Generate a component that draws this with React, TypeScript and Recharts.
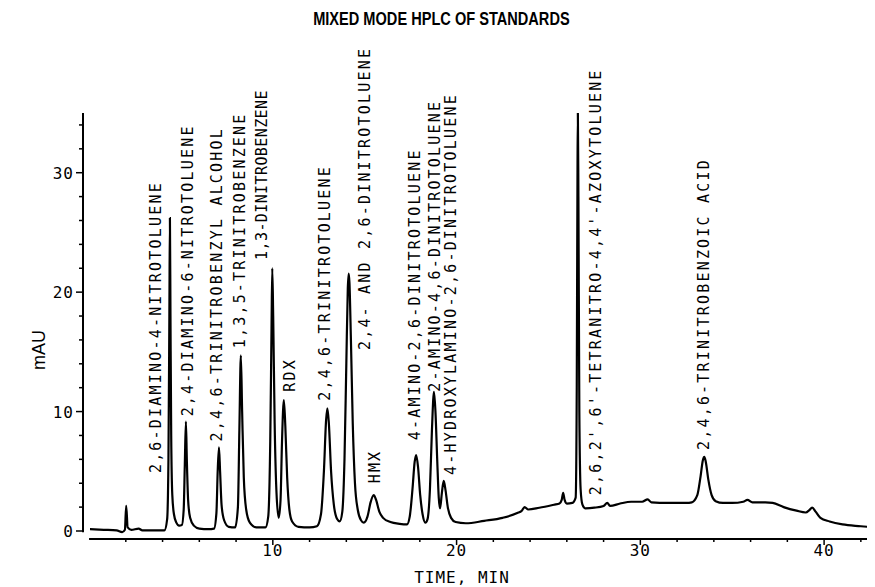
import React from 'react';
import { LineChart, Line, XAxis, YAxis, ReferenceDot, ReferenceLine } from 'recharts';

// Chromatogram trace: retention time (min) and absorbance (mAU)
const traceTime = [
  0.05, 0.8, 1.5, 1.8, 1.95, 2.02, 2.1, 2.3, 2.7, 2.9, 3.5, 4.1,
  4.25, 4.32, 4.37, 4.4, 4.43, 4.47, 4.53, 4.62, 4.75, 4.9,
  5.05, 5.15, 5.21, 5.27, 5.32, 5.39, 5.5, 5.7, 6.0, 6.5,
  6.8, 6.93, 7.0, 7.07, 7.13, 7.21, 7.35, 7.6,
  7.95, 8.1, 8.18, 8.26, 8.33, 8.42, 8.55, 8.75, 9.1,
  9.6, 9.75, 9.86, 9.93, 9.97, 10.02, 10.1, 10.2, 10.32,
  10.42, 10.5, 10.6, 10.68, 10.78, 10.9, 11.05, 11.4, 12.0,
  12.4, 12.62, 12.78, 12.9, 12.97, 13.05, 13.17, 13.32, 13.5, 13.64,
  13.78, 13.9, 14.0, 14.08, 14.13, 14.17, 14.25, 14.35, 14.47, 14.62, 14.8, 14.95,
  15.15, 15.32, 15.49, 15.62, 15.8, 16.0, 16.4, 16.9, 17.3,
  17.45, 17.6, 17.72, 17.8, 17.9, 18.02, 18.15, 18.3,
  18.42, 18.55, 18.66, 18.77, 18.85, 18.95, 19.03, 19.1,
  19.2, 19.3, 19.4, 19.52, 19.7, 19.95, 20.5,
  21.5, 22.5, 23.3, 23.55, 23.7, 23.9, 24.5, 25.3,
  25.6, 25.72, 25.8, 25.88, 26.0, 26.3,
  26.48, 26.54, 26.58, 26.6, 26.63, 26.68, 26.75, 26.85, 27.0,
  27.5, 28.0, 28.2, 28.35, 28.9, 29.5, 30.1, 30.4, 30.6, 31.5, 32.5,
  32.8, 33.1, 33.28, 33.4, 33.48, 33.56, 33.7, 33.88, 34.1, 34.5,
  35.0, 35.6, 35.83, 36.1, 36.8, 37.2, 37.8, 38.5, 39.0,
  39.2, 39.35, 39.55, 39.8, 40.3, 41.0, 42.0, 42.75,
];
const traceMAU = [
  0.15, 0.1, 0.05, -0.1, 0.1, 2.1, 0.3, 0.1, 0.2, 0.05, 0.05, 0.05,
  1.0, 6, 18, 26.2, 18, 8, 3, 1.4, 0.7, 0.45,
  0.5, 1.8, 5.5, 9.15, 6.0, 2.6, 1.1, 0.45, 0.2, 0.15,
  0.2, 1.5, 5.0, 7.0, 5.0, 2.2, 0.9, 0.35,
  0.3, 2.0, 8.5, 14.7, 10, 4.5, 1.8, 0.7, 0.3,
  0.3, 1.2, 7.5, 17, 22.0, 18, 9, 3.2, 1.1,
  2.6, 7.5, 10.96, 8.8, 4.5, 1.8, 0.8, 0.35, 0.3,
  0.4, 1.4, 5, 9.3, 10.27, 9.0, 5.0, 2.2, 1.0, 0.8,
  1.6, 6, 14, 20.3, 21.56, 20.8, 16, 9, 4, 1.8, 0.9, 0.7,
  1.2, 2.4, 3.0, 2.6, 1.6, 1.1, 0.75, 0.6, 0.55,
  1.2, 3.5, 5.8, 6.36, 5.4, 3.0, 1.4, 0.7,
  1.0, 3.5, 8.5, 11.66, 10, 5.8, 2.8, 1.9,
  3.2, 4.2, 3.4, 2.0, 1.1, 0.75, 0.65,
  0.85, 1.1, 1.5, 1.7, 2.0, 1.8, 1.95, 2.2,
  2.3, 2.6, 3.2, 2.6, 2.3, 2.35,
  2.8, 12, 30, 35, 28, 10, 3.5, 2.2, 1.9,
  1.95, 2.1, 2.35, 2.1, 2.3, 2.45, 2.45, 2.65, 2.4, 2.35, 2.35,
  2.4, 3.0, 4.6, 5.9, 6.2, 5.8, 4.3, 3.0, 2.5, 2.35,
  2.35, 2.45, 2.6, 2.4, 2.4, 2.35, 2.0, 1.7, 1.55,
  1.75, 1.95, 1.6, 1.1, 0.8, 0.55, 0.4, 0.3,
];

// Peak annotations
const peakNames = [
  '2,6-DIAMINO-4-NITROTOLUENE',
  '2,4-DIAMINO-6-NITROTOLUENE',
  '2,4,6-TRINITROBENZYL ALCOHOL',
  '1,3,5-TRINITROBENZENE',
  '1,3-DINITROBENZENE',
  'RDX',
  '2,4,6-TRINITROTOLUENE',
  '2,4- AND 2,6-DINITROTOLUENE',
  'HMX',
  '4-AMINO-2,6-DINITROTOLUENE',
  '2-AMINO-4,6-DINITROTOLUENE',
  '4-HYDROXYLAMINO-2,6-DINITROTOLUENE',
  "2,6,2',6'-TETRANITRO-4,4'-AZOXYTOLUENE",
  '2,4,6-TRINITROBENZOIC ACID',
];
// label anchor: time (min) of the label column, and mAU where the text starts
const labelTime = [3.64, 5.4, 6.94, 8.21, 9.39, 10.92, 12.83, 15.0, 15.54, 17.72, 18.8, 19.71, 27.59, 33.48];
const labelBase = [4.85, 9.6, 7.5, 15.3, 22.7, 11.66, 10.9, 15.15, 3.99, 7.6, 11.66, 4.69, 3.0, 6.78];

const xTicks = [2, 4, 6, 8, 10, 12, 14, 16, 18, 20, 22, 24, 26, 28, 30, 32, 34, 36, 38, 40, 42];
const xMajor = [10, 20, 30, 40];
const yTicks = [0, 2, 4, 6, 8, 10, 12, 14, 16, 18, 20, 22, 24, 26, 28, 30, 32, 34];
const yMajor = [0, 10, 20, 30];

const X_MIN = -0.33;
const X_MAX = 42.77;
const Y_MIN = -0.67;
const Y_MAX = 35;

// label drawn with tighter character pitch in the original plot
const labelSpacing: Record<string, number> = { '1,3-DINITROBENZENE': 0.4 };

const data = traceTime.map((t, i) => ({ t, v: traceMAU[i] }));

const MONO = '"DejaVu Sans Mono", monospace';

const XTick = (props: any) => {
  const { x, y, payload } = props;
  const major = xMajor.includes(payload.value);
  return (
    <g>
      <line x1={x} x2={x} y1={y} y2={y + (major ? 6 : 3)} stroke="#000" strokeWidth={1.5} />
      {major && (
        <text x={x} y={y + 17} textAnchor="middle" fontFamily={MONO} fontSize={16} letterSpacing={1} fill="#000">
          {payload.value}
        </text>
      )}
    </g>
  );
};

const YTick = (props: any) => {
  const { x, y, payload } = props;
  const major = yMajor.includes(payload.value);
  return (
    <g>
      <line x1={x - (major ? 7 : 4)} x2={x} y1={y} y2={y} stroke="#000" strokeWidth={1.5} />
      {major && (
        <text x={x - 9} y={y + 6} textAnchor="end" fontFamily={MONO} fontSize={16} letterSpacing={1} fill="#000">
          {payload.value}
        </text>
      )}
    </g>
  );
};

const PeakLabel = ({ cx, cy, text }: { cx: number; cy: number; text: string }) => (
  <text
    x={cx}
    y={cy}
    transform={`rotate(-90 ${cx} ${cy})`}
    textAnchor="start"
    dominantBaseline="central"
    fontFamily={MONO}
    fontSize={15}
    letterSpacing={labelSpacing[text] ?? 2.2}
    fill="#000"
  >
    {text}
  </text>
);

export default function App() {
  return (
    <div style={{ position: 'relative', width: 867, height: 579 }}>
      <div
        style={{
          position: 'absolute',
          top: 2,
          left: 0,
          width: 867,
          textAlign: 'center',
          fontFamily: '"Liberation Sans", Arial, sans-serif',
          fontWeight: 'bold',
          fontSize: 18,
          lineHeight: '18px',
          transform: 'scaleX(0.81)',
          transformOrigin: '433px 0',
          color: '#000',
        }}
      >
        MIXED MODE HPLC OF STANDARDS
      </div>
      <LineChart width={867} height={579} data={data} margin={{ top: 105, right: 0, bottom: 4, left: 0 }}>
        <XAxis
          dataKey="t"
          type="number"
          domain={[X_MIN, X_MAX]}
          allowDataOverflow
          ticks={xTicks}
          interval={0}
          tickSize={0}
          tickMargin={0}
          tickLine={false}
          tick={<XTick />}
          height={44}
          axisLine={false}
          label={(p: any) => {
            const vb = p.viewBox || { x: 75, y: 531 };
            return (
              <text x={vb.x + 379} y={vb.y + 44} textAnchor="middle" fontFamily={MONO} fontSize={16} letterSpacing={1} fill="#000">
                TIME, MIN
              </text>
            );
          }}
        />
        <YAxis
          type="number"
          domain={[Y_MIN, Y_MAX]}
          allowDataOverflow
          ticks={yTicks}
          interval={0}
          tickSize={0}
          tickMargin={0}
          tickLine={false}
          tick={<YTick />}
          width={75}
          axisLine={false}
          label={(p: any) => {
            const vb = p.viewBox || { x: 0, y: 105 };
            const cx = vb.x + 31;
            const cy = vb.y + 237;
            return (
              <text
                x={cx}
                y={cy}
                transform={`rotate(-90 ${cx} ${cy})`}
                textAnchor="middle"
                dominantBaseline="central"
                fontFamily='"Liberation Sans", Arial, sans-serif'
                fontSize={18}
                fill="#000"
              >
                mAU
              </text>
            );
          }}
        />
        <ReferenceLine
          segment={[{ x: X_MIN, y: -0.1 }, { x: X_MIN, y: Y_MAX }]}
          stroke="#000"
          strokeWidth={2}
          ifOverflow="visible"
        />
        <ReferenceLine
          segment={[{ x: 0, y: Y_MIN }, { x: X_MAX, y: Y_MIN }]}
          stroke="#000"
          strokeWidth={2}
          ifOverflow="visible"
        />
        <Line
          dataKey="v"
          type="monotone"
          stroke="#000"
          strokeWidth={2.2}
          dot={false}
          activeDot={false}
          isAnimationActive={false}
        />
        {peakNames.map((name, i) => (
          <ReferenceDot
            key={name}
            x={labelTime[i]}
            y={labelBase[i]}
            r={0}
            ifOverflow="visible"
            shape={(p: any) => <PeakLabel cx={p.cx} cy={p.cy} text={name} />}
          />
        ))}
      </LineChart>
    </div>
  );
}
